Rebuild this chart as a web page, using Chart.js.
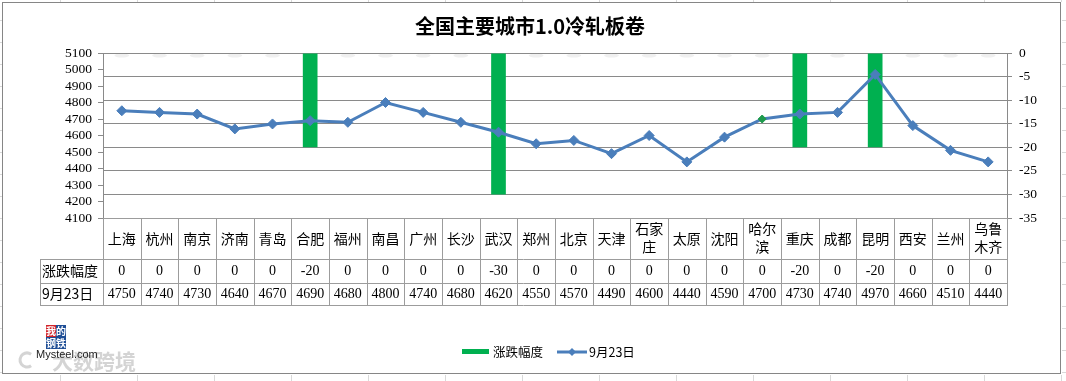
<!DOCTYPE html>
<html>
<head>
<meta charset="utf-8">
<script src="https://cdn.jsdelivr.net/npm/chart.js@4"></script>
<style>
html,body{margin:0;padding:0;background:#fff;}
#wrap{position:relative;width:1066px;height:381px;}
</style>
</head>
<body>
<div id="wrap"><canvas id="c" width="1066" height="381"></canvas></div>
<script>
const chartTitle = '全国主要城市1.0冷轧板卷';
const categories = ['上海','杭州','南京','济南','青岛','合肥','福州','南昌','广州','长沙','武汉','郑州','北京','天津','石家庄','太原','沈阳','哈尔滨','重庆','成都','昆明','西安','兰州','乌鲁木齐'];
const changeName = '涨跌幅度';
const changeValues = [0,0,0,0,0,-20,0,0,0,0,-30,0,0,0,0,0,0,0,-20,0,-20,0,0,0];
const priceName = '9月23日';
const priceValues = [4750,4740,4730,4640,4670,4690,4680,4800,4740,4680,4620,4550,4570,4490,4600,4440,4590,4700,4730,4740,4970,4660,4510,4440];
const highlightCity = '哈尔滨';

const CJK = '"Noto Sans CJK SC", "Noto Sans", sans-serif';
const NUM = '"Liberation Serif", "DejaVu Serif", serif';
const GRID = '#8a8a8a';
const TABLE = '#9c9c9c';
const BLUE = '#4A7EBB';
const GREEN = '#00B050';

function splitLabel(s){
  const out = [];
  for (let i = 0; i < s.length; i += 2) out.push(s.slice(i, i + 2));
  return out;
}

const decorPlugin = {
  id: 'decor',
  beforeDraw(chart){
    const ctx = chart.ctx;
    ctx.save();
    ctx.fillStyle = '#fff';
    ctx.fillRect(0,0,chart.width,chart.height);
    ctx.strokeStyle = '#d9d9d9';
    ctx.lineWidth = 1;
    ctx.beginPath();
    for (let x = 60; x < 1066; x += 77) {
      ctx.moveTo(x+0.5,0); ctx.lineTo(x+0.5,2);
      ctx.moveTo(x+0.5,375); ctx.lineTo(x+0.5,381);
    }
    for (let y = 20; y < 381; y += 22) {
      ctx.moveTo(0,y+0.5); ctx.lineTo(2,y+0.5);
      ctx.moveTo(1062,y+0.5); ctx.lineTo(1066,y+0.5);
    }
    ctx.stroke();
    ctx.strokeStyle = '#868686';
    ctx.strokeRect(2.5,2.5,1058,371);
    ctx.restore();
  },
  beforeDatasetsDraw(chart){
    const meta = chart.getDatasetMeta(0);
    const ctx = chart.ctx;
    const top = chart.chartArea.top;
    ctx.save();
    meta.data.forEach((el, i) => {
      if (changeValues[i] === 0) {
        ctx.fillStyle = 'rgba(170,170,170,0.18)';
        ctx.beginPath();
        ctx.ellipse(el.x, top+2.5, el.width/2, 2, 0, 0, Math.PI*2);
        ctx.fill();
      }
    });
    ctx.restore();
  },
  afterDraw(chart){
    const ctx = chart.ctx;
    const ca = chart.chartArea;
    const n = categories.length;
    const w = (ca.right - ca.left) / n;
    const xScale = chart.scales.x;
    const y0 = ca.bottom, y1 = 259, y2 = 282.5, y3 = 304.5, xl = 40;
    ctx.save();
    ctx.fillStyle = '#000';
    ctx.font = 'bold 20px ' + CJK;
    ctx.textAlign = 'center';
    ctx.textBaseline = 'middle';
    ctx.fillText(chartTitle, 530, 26);

    ctx.strokeStyle = TABLE;
    ctx.lineWidth = 1;
    ctx.beginPath();
    ctx.moveTo(ca.left, Math.round(y0)+0.5); ctx.lineTo(ca.right, Math.round(y0)+0.5);
    [y1,y2,y3].forEach(y => { ctx.moveTo(xl, Math.round(y)+0.5); ctx.lineTo(ca.right, Math.round(y)+0.5); });
    ctx.moveTo(xl+0.5, y1); ctx.lineTo(xl+0.5, Math.round(y3)+1);
    for (let i = 0; i <= n; i++) {
      const x = Math.round(ca.left + i*w) + 0.5;
      ctx.moveTo(x, y0); ctx.lineTo(x, Math.round(y3)+1);
    }
    ctx.stroke();

    ctx.fillStyle = '#000';
    ctx.textAlign = 'center';
    ctx.textBaseline = 'middle';
    ctx.font = '14px ' + CJK;
    categories.forEach((c, i) => {
      const x = xScale.getPixelForValue(i);
      const lines = splitLabel(c);
      if (lines.length === 1) ctx.fillText(lines[0], x, 239);
      else { ctx.fillText(lines[0], x, 229); ctx.fillText(lines[1], x, 247); }
    });
    ctx.textAlign = 'left';
    ctx.fillText(changeName, 42, 271);
    ctx.fillText(priceName, 42, 294);
    ctx.textAlign = 'center';
    ctx.font = '14px ' + NUM;
    categories.forEach((c, i) => {
      const x = xScale.getPixelForValue(i);
      ctx.fillText(String(changeValues[i]), x, 271.5);
      ctx.fillText(String(priceValues[i]), x, 294);
    });

    ctx.fillStyle = GREEN;
    ctx.fillRect(462, 349, 27, 5);
    ctx.fillStyle = '#000';
    ctx.textAlign = 'left';
    ctx.font = '12.5px ' + CJK;
    ctx.fillText(changeName, 493, 352);
    ctx.strokeStyle = BLUE;
    ctx.lineWidth = 3;
    ctx.beginPath(); ctx.moveTo(557, 352); ctx.lineTo(587, 352); ctx.stroke();
    ctx.fillStyle = BLUE;
    ctx.beginPath(); ctx.moveTo(572,348); ctx.lineTo(576,352); ctx.lineTo(572,356); ctx.lineTo(568,352); ctx.closePath(); ctx.fill();
    ctx.fillStyle = '#000';
    ctx.fillText(priceName, 589, 352);

    ctx.fillStyle = 'rgba(205,205,205,0.85)';
    ctx.font = 'bold 21px ' + CJK;
    ctx.fillText('大数跨境', 52, 361);
    ctx.strokeStyle = 'rgba(205,205,205,0.85)';
    ctx.lineWidth = 3;
    ctx.beginPath(); ctx.arc(27, 360, 7, 0.3*Math.PI, 1.7*Math.PI); ctx.stroke();
    const boxes = [['我','#d2232a',46,325],['的','#1f4e96',56,325],['钢','#1f4e96',46,337],['铁','#1f4e96',56,337]];
    ctx.font = 'bold 10px ' + CJK;
    ctx.textAlign = 'center';
    boxes.forEach(b => {
      ctx.fillStyle = b[1]; ctx.fillRect(b[2], b[3], 10, 12);
      ctx.fillStyle = '#fff'; ctx.fillText(b[0], b[2]+5, b[3]+6);
    });
    ctx.fillStyle = '#222';
    ctx.font = '11px "Liberation Sans", sans-serif';
    ctx.textAlign = 'left';
    ctx.fillText('Mysteel.com', 36, 355);
    ctx.restore();
  }
};

new Chart(document.getElementById('c'), {
  data: {
    labels: categories,
    datasets: [
      {
        type: 'bar', label: changeName, data: changeValues, yAxisID: 'y1',
        backgroundColor: GREEN, borderWidth: 0,
        categoryPercentage: 1, barPercentage: 0.39, order: 1
      },
      {
        type: 'line', label: priceName, data: priceValues, yAxisID: 'y',
        borderColor: BLUE, borderWidth: 3, tension: 0,
        pointStyle: 'rectRot',
        pointRadius: c => categories[c.dataIndex] === highlightCity ? 4 : 5,
        pointBackgroundColor: c => categories[c.dataIndex] === highlightCity ? '#1E9A4C' : BLUE,
        pointBorderColor: c => categories[c.dataIndex] === highlightCity ? '#1E9A4C' : BLUE,
        pointBorderWidth: 1, order: 0
      }
    ]
  },
  options: {
    responsive: false,
    animation: false,
    events: [],
    layout: { padding: { top: 53, bottom: 163, left: 0, right: 0 } },
    plugins: { legend: { display: false }, title: { display: false }, tooltip: { enabled: false } },
    scales: {
      x: { type: 'category', display: false, offset: true },
      y: {
        position: 'left', min: 4100, max: 5100,
        ticks: { stepSize: 100, autoSkip: false, color: '#000', font: { family: NUM, size: 13.5 }, padding: 6,
                 callback: v => String(v) },
        grid: { drawOnChartArea: false, drawTicks: true, tickLength: 5, color: GRID },
        border: { color: GRID },
        afterFit(s){ s.width = 103; }
      },
      y1: {
        position: 'right', min: -35, max: 0,
        ticks: { stepSize: 5, autoSkip: false, color: '#000', font: { family: NUM, size: 13.5 }, padding: 7,
                 callback: v => String(v) },
        grid: { drawOnChartArea: true, drawTicks: true, tickLength: 5, color: GRID },
        border: { color: GRID },
        afterFit(s){ s.width = 59; }
      }
    }
  },
  plugins: [decorPlugin]
});
</script>
</body>
</html>
